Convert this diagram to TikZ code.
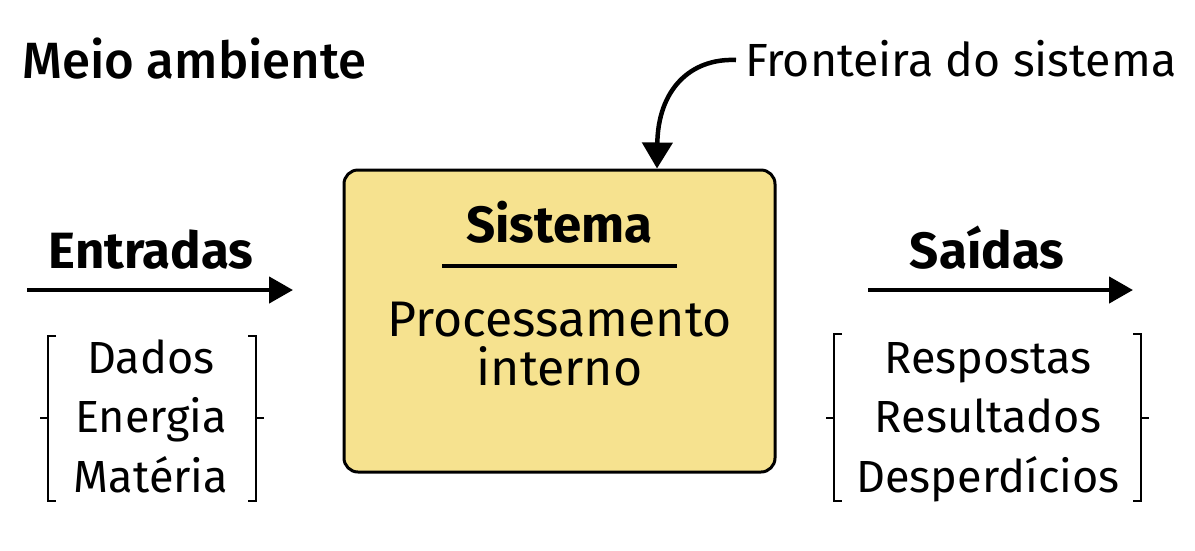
\documentclass[tikz,border=0pt]{standalone}
\usepackage{fontspec}
\setmainfont{Fira Sans}
\newfontfamily\medfont{Fira Sans Medium}
\usepackage{tikz}
\usetikzlibrary{arrows.meta, positioning, calc}

\definecolor{boxyellow}{RGB}{246,226,143}

\begin{document}
\begin{tikzpicture}[x=1pt, y=-1pt, >={Triangle[length=24pt, width=26pt]},
		txt/.style={font=\fontsize{45}{56}\selectfont, inner sep=0pt},
		bigtxt/.style={font=\fontsize{50}{56}\selectfont, inner sep=0pt},
		title/.style={font=\bfseries\fontsize{51}{56}\selectfont, inner sep=0pt},
		flow/.style={->, line width=4.5pt},
		brack/.style={line width=2.4pt}]
		\useasboundingbox (0,0) rectangle (1195,550);

		\node[txt, font=\medfont\fontsize{51}{60}\selectfont, anchor=base west] (Meio) at (22,78) {Meio ambiente};
		\node[txt, font=\fontsize{46.5}{56}\selectfont, anchor=base west] (Fronteira) at (745,76) {Fronteira do sistema};

		\node[draw, line width=3pt, rounded corners=14pt, fill=boxyellow,
			minimum width=431pt, minimum height=302pt] (Sistema) at (559.5,321) {};
		\node[title, anchor=base] (SistemaTxt) at (559.5,242) {Sistema};
		\draw[line width=4pt] (442,266) -- (677,266);
		\node[bigtxt, anchor=base] (ProcTxt) at (559.5,336) {Processamento};
		\node[bigtxt, anchor=base] (IntTxt) at (559.5,385) {interno};

		\coordinate (FrontStart) at ($(Fronteira.west |- 0,60) + (-9,0)$);
		\draw[->, line width=4.5pt, >={Triangle[length=26pt, width=30pt]}]
			(FrontStart) .. controls (690,58) and (658,90) .. (Sistema.north -| 657,0);

		% entradas
		\node[title, anchor=base] (Entradas) at (151,268) {Entradas};
		\coordinate (InStart) at (27,290);
		\coordinate (InEnd) at (293,290);
		\draw[flow] (InStart) -- (InEnd);
		\node[txt, anchor=base] (Dados) at (151,373) {Dados};
		\node[txt, anchor=base] (Energia) at (151,432) {Energia};
		\node[txt, anchor=base] (Materia) at (151,492) {Matéria};
		\draw[brack] (56,336) -- (48,336) -- (48,501) -- (56,501);
		\draw[brack] (48,418) -- (40,418);
		\draw[brack] (248,336) -- (256,336) -- (256,501) -- (248,501);
		\draw[brack] (256,418) -- (264,418);

		% saidas
		\node[title, anchor=base] (Saidas) at (987,268) {Saídas};
		\coordinate (OutStart) at (868,290);
		\coordinate (OutEnd) at (1133,290);
		\draw[flow] (OutStart) -- (OutEnd);
		\node[txt, anchor=base] (Respostas) at (988,373) {Respostas};
		\node[txt, anchor=base] (Resultados) at (988,432) {Resultados};
		\node[txt, anchor=base] (Desperdicios) at (988,492) {Desperdícios};
		\draw[brack] (842,334) -- (834,334) -- (834,501) -- (842,501);
		\draw[brack] (834,418) -- (826,418);
		\draw[brack] (1133,334) -- (1141,334) -- (1141,501) -- (1133,501);
		\draw[brack] (1141,418) -- (1149,418);
\end{tikzpicture}
\end{document}
